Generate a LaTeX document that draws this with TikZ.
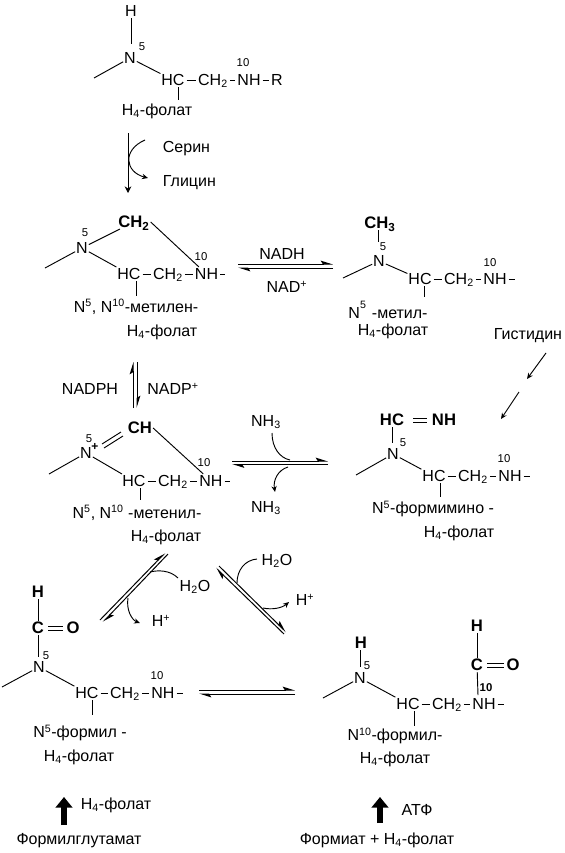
\documentclass[tikz,border=0pt]{standalone}
\usepackage{fontspec}
\setmainfont{Liberation Sans}
\usetikzlibrary{arrows.meta}
\newcommand{\hfour}{H\textsubscript{4}-фолат}
\tikzset{
  mol/.style={font=\fontsize{12}{13}\selectfont,text height=8.6pt,text depth=0.4pt,inner sep=0.6pt},
  molb/.style={mol,font=\fontsize{12.5}{13}\bfseries\selectfont},
  lab/.style={font=\fontsize{12}{13}\selectfont,inner sep=0.5pt},
  idx/.style={font=\fontsize{8.5}{9}\selectfont,inner sep=0pt},
  idxb/.style={font=\fontsize{8.5}{9}\bfseries\selectfont,inner sep=0pt},
  bond/.style={line width=0.7pt,black},
  chain/.style={bond,shorten <=0.8pt,shorten >=0.8pt},
  curved/.style={line width=0.7pt,-{Stealth[length=4.5pt,width=4pt]}},
  plaincurve/.style={line width=0.7pt},
  fwd/.style={line width=0.75pt,-{Stealth[harpoon,length=8pt,width=5pt,inset=1.5pt]}},
  back/.style={line width=0.75pt,-{Stealth[harpoon,length=8pt,width=5pt,inset=1.5pt]}},
  thick arrow/.style={line width=4.5pt,-{Triangle[length=8pt,width=12.5pt]}},
  every node/.style={text=black}
}
\begin{document}
\begin{tikzpicture}[x=0.75pt,y=-0.75pt]
\useasboundingbox (0,0) rectangle (564,853);
% ---------- H4-folate
\node[mol] (aH) at (131,11) {H};
\node[mol] (aN) at (130,58) {N};
\node[idx] (a5) at (142,47) {5};
\coordinate (aF) at (94,78);
\coordinate (aB) at (131,44);
\node[mol] (aHC) at (173,80) {HC};
\node[mol] (aCH) at (213,80) {CH\textsubscript{2}};
\node[mol] (aNH) at (249,80) {NH};
\node[mol] (aR) at (277,80) {R};
\node[idx] (a10) at (243,63) {10};
\coordinate (aT) at (178,100);
\node[lab] (aL) at (157,111) {\hfour};
\draw[bond] (aH) -- (aB);
\draw[bond] (aN) -- (aF);
\draw[bond] (aN) -- (aHC);
\draw[chain] (aHC) -- (aCH);
\draw[chain] (aCH) -- (aNH);
\draw[chain] (aNH) -- (aR);
\draw[bond] (aT |- aHC.south) -- (aT);
% serine -> glycine
\coordinate (s1) at (128,133); \coordinate (s2) at (128,193);
\coordinate (s3) at (145,140); \coordinate (s4) at (148,178);
\node[lab,anchor=west] (aS) at (162,149) {Серин};
\node[lab,anchor=west] (aG) at (162,183) {Глицин};
\draw[line width=0.7pt,-{Stealth[length=5pt,width=5pt]}] (s1) -- (s2);
\draw[curved] (s3) .. controls (122,150) and (125,172) .. (s4);
% ---------- methylene
\node[molb] (bCH2) at (134,222) {CH\textsubscript{2}};
\node[mol] (bN) at (82,248) {N};
\node[idx] (b5) at (85,233) {5};
\coordinate (bF) at (45,268);
\node[mol] (bHC) at (129,274) {HC};
\node[mol] (bCH) at (168,274) {CH\textsubscript{2}};
\node[mol] (bNH) at (206.5,274) {NH};
\coordinate (bE) at (225,274);
\node[idx] (b10) at (201,257) {10};
\coordinate (bT) at (136,296);
\node[lab] (bL) at (136,307) {N\textsuperscript{5}, N\textsuperscript{10}-метилен-};
\node[lab] (bL2) at (162,332) {\hfour};
\draw[bond] (bN) -- (bF);
\draw[bond] (bN) -- (bCH2);
\draw[bond] (bN) -- (bHC);
\draw[bond] (bCH2.east) -- (bNH);
\draw[chain] (bHC) -- (bCH);
\draw[chain] (bCH) -- (bNH);
\draw[chain,shorten >=0pt] (bNH) -- (bE);
\draw[bond] (bT |- bHC.south) -- (bT);
% NADH equilibrium
\coordinate (e1a) at (238,264); \coordinate (e1b) at (333,264);
\coordinate (e1c) at (333,268); \coordinate (e1d) at (238,268);
\draw[fwd] (e1a) -- (e1b);
\draw[back] (e1c) -- (e1d);
\node[lab] (eN1) at (282,254) {NADH};
\node[lab] (eN2) at (287,287) {NAD\textsuperscript{+}};
% ---------- methyl
\node[molb] (cCH3) at (380,223) {CH\textsubscript{3}};
\node[mol] (cN) at (379,261) {N};
\node[idx] (c5) at (383,247) {5};
\coordinate (cF) at (343,278);
\node[mol] (cHC) at (420,279) {HC};
\node[mol] (cCH) at (459,279) {CH\textsubscript{2}};
\node[mol] (cNH) at (495,279) {NH};
\coordinate (cE) at (515,279);
\node[idx] (c10) at (490,263) {10};
\coordinate (cT) at (424,297);
\coordinate (cTop) at (378,242);
\node[lab] (cL) at (388,310) {N\raisebox{3pt}{\textsuperscript{5}}\,\,-метил-};
\node[lab] (cL2) at (393,331) {\hfour};
\draw[bond] (cTop |- cCH3.south) -- (cTop);
\draw[bond] (cN) -- (cF);
\draw[bond] (cN) -- (cHC);
\draw[chain] (cHC) -- (cCH);
\draw[chain] (cCH) -- (cNH);
\draw[chain,shorten >=0pt] (cNH) -- (cE);
\draw[bond] (cT |- cHC.south) -- (cT);
% histidine
\node[lab] (hi) at (528,336) {Гистидин};
\coordinate (h1) at (546,353); \coordinate (h2) at (527,379);
\coordinate (h3) at (519,392); \coordinate (h4) at (501,419);
\draw[curved] (h1) -- (h2);
\draw[curved] (h3) -- (h4);
% NADPH equilibrium
\coordinate (v1) at (133,408); \coordinate (v2) at (133,362);
\coordinate (v3) at (137,362); \coordinate (v4) at (137,408);
\draw[fwd] (v1) -- (v2);
\draw[back] (v3) -- (v4);
\node[lab] (vA) at (90,389) {NADPH};
\node[lab] (vB) at (173,389) {NADP\textsuperscript{+}};
% ---------- methenyl
\node[molb] (dCH) at (140,428) {CH};
\node[mol] (dN) at (86,453) {N};
\node[idxb,font=\fontsize{9}{9}\bfseries\selectfont] (dP) at (95,447) {+};
\node[idx] (d5) at (89,439) {5};
\coordinate (dF) at (49,474);
\node[mol] (dHC) at (134,481) {HC};
\node[mol] (dCH2) at (173,481) {CH\textsubscript{2}};
\node[mol] (dNH) at (211,481) {NH};
\coordinate (dE) at (230,481);
\node[idx] (d10) at (204,463) {10};
\coordinate (dT) at (140,500);
\node[lab] (dL) at (137,513) {N\textsuperscript{5}, N\textsuperscript{10} -метенил-};
\node[lab] (dL2) at (166,537) {\hfour};
\coordinate (dd1) at (102,444); \coordinate (dd2) at (121,432);
\coordinate (dd3) at (104,448); \coordinate (dd4) at (123,436);
\draw[bond] (dd1) -- (dd2);
\draw[bond] (dd3) -- (dd4);
\draw[bond] (dN) -- (dF);
\draw[bond] (dN) -- (dHC);
\draw[bond] (dCH.east) -- (dNH);
\draw[chain] (dHC) -- (dCH2);
\draw[chain] (dCH2) -- (dNH);
\draw[chain,shorten >=0pt] (dNH) -- (dE);
\draw[bond] (dT |- dHC.south) -- (dT);
% NH3 equilibrium
\coordinate (n1) at (232,461); \coordinate (n2) at (328,461);
\coordinate (n3) at (328,464.5); \coordinate (n4) at (232,464.5);
\draw[fwd] (n1) -- (n2);
\draw[back] (n3) -- (n4);
\node[lab] (nA) at (266,422) {NH\textsubscript{3}};
\node[lab] (nB) at (266,508) {NH\textsubscript{3}};
\coordinate (n5) at (272,433); \coordinate (n6) at (290,460);
\coordinate (n7) at (288,467); \coordinate (n8) at (275,492);
\draw[plaincurve] (n5) .. controls (272,448) and (280,458) .. (n6);
\draw[curved] (n7) .. controls (278,470) and (273,480) .. (n8);
% ---------- formimino
\node[molb] (fHC) at (392,420) {HC};
\coordinate (fd1) at (413,418); \coordinate (fd2) at (427,418);
\coordinate (fd3) at (413,422); \coordinate (fd4) at (427,422);
\node[molb] (fNH2) at (444,420) {NH};
\node[mol] (fN) at (393,454) {N};
\node[idx] (f5) at (403,443) {5};
\coordinate (fF) at (356,475);
\node[mol] (fHCb) at (434,476) {HC};
\node[mol] (fCH) at (473,476) {CH\textsubscript{2}};
\node[mol] (fNH) at (510,476) {NH};
\coordinate (fE) at (530,476);
\node[idx] (f10) at (504,459) {10};
\coordinate (fT) at (440,497);
\coordinate (fB) at (392,443);
\node[lab] (fL) at (433,509) {N\textsuperscript{5}-формимино -};
\node[lab] (fL2) at (459,533) {\hfour};
\draw[bond] (fd1) -- (fd2);
\draw[bond] (fd3) -- (fd4);
\draw[bond] (fB |- fHC.south) -- (fB);
\draw[bond] (fN) -- (fF);
\draw[bond] (fN) -- (fHCb);
\draw[chain] (fHCb) -- (fCH);
\draw[chain] (fCH) -- (fNH);
\draw[chain,shorten >=0pt] (fNH) -- (fE);
\draw[bond] (fT |- fHCb.south) -- (fT);
% left diagonal equilibrium
\coordinate (g1) at (100,620); \coordinate (g2) at (165,553);
\coordinate (g3) at (168,554); \coordinate (g4) at (103,622);
\draw[fwd] (g1) -- (g2);
\draw[back] (g3) -- (g4);
\node[lab] (gA) at (195,587) {H\textsubscript{2}O};
\node[lab] (gB) at (161,621) {H\textsuperscript{+}};
\coordinate (g5) at (178,578); \coordinate (g6) at (150,572);
\coordinate (g7) at (128,598); \coordinate (g8) at (140,623);
\draw[plaincurve] (g5) .. controls (170,570) and (158,570) .. (g6);
\draw[curved] (g7) .. controls (126,610) and (132,620) .. (g8);
% right diagonal equilibrium
\coordinate (k1) at (284,634); \coordinate (k2) at (216,568);
\coordinate (k3) at (219,566); \coordinate (k4) at (286,632);
\draw[fwd] (k1) -- (k2);
\draw[back] (k3) -- (k4);
\node[lab] (kA) at (277,561) {H\textsubscript{2}O};
\node[lab] (kB) at (305,600) {H\textsuperscript{+}};
\coordinate (k5) at (257,559); \coordinate (k6) at (237,583);
\coordinate (k7) at (263,608); \coordinate (k8) at (289,602);
\draw[plaincurve] (k5) .. controls (245,560) and (237,570) .. (k6);
\draw[curved] (k7) .. controls (272,610) and (282,608) .. (k8);
% ---------- N5-formyl
\node[molb] (mH) at (38,592) {H};
\node[molb] (mC) at (38,628) {C};
\coordinate (md1) at (48,626.5); \coordinate (md2) at (63,626.5);
\coordinate (md3) at (48,630); \coordinate (md4) at (63,630);
\node[molb] (mO) at (73,628) {O};
\node[mol] (mN) at (39,667) {N};
\node[idx] (m5) at (46,656) {5};
\coordinate (mF) at (2,687);
\node[mol] (mHC) at (87,693) {HC};
\node[mol] (mCH) at (125,693) {CH\textsubscript{2}};
\node[mol] (mNH) at (163,693) {NH};
\coordinate (mE) at (183,693);
\node[idx] (m10) at (157,676) {10};
\coordinate (mT) at (92,715);
\coordinate (mB) at (38.5,657);
\node[lab] (mL) at (80,733) {N\textsuperscript{5}-формил -};
\node[lab] (mL2) at (79,757) {\hfour};
\draw[bond] (md1) -- (md2);
\draw[bond] (md3) -- (md4);
\draw[bond] (mH) -- (mC);
\draw[bond] (mB |- mC.south) -- (mB);
\draw[bond] (mN) -- (mF);
\draw[bond] (mN) -- (mHC);
\draw[chain] (mHC) -- (mCH);
\draw[chain] (mCH) -- (mNH);
\draw[chain,shorten >=0pt] (mNH) -- (mE);
\draw[bond] (mT |- mHC.south) -- (mT);
% lower equilibrium
\coordinate (q1) at (199,690); \coordinate (q2) at (295,690);
\coordinate (q3) at (295,694); \coordinate (q4) at (199,694);
\draw[fwd] (q1) -- (q2);
\draw[back] (q3) -- (q4);
% ---------- N10-formyl
\node[molb] (pH) at (361,643) {H};
\node[mol] (pN) at (360,678) {N};
\node[idx] (p5) at (367,666) {5};
\coordinate (pF) at (323,698);
\node[mol] (pHC) at (408,704) {HC};
\node[mol] (pCH) at (447,704) {CH\textsubscript{2}};
\node[mol] (pNH) at (484,704) {NH};
\coordinate (pE) at (504,704);
\coordinate (pT) at (414,726);
\coordinate (pB) at (360,667);
\node[lab] (pL) at (395,736) {N\textsuperscript{10}-формил-};
\node[lab] (pL2) at (395,759) {\hfour};
\node[molb] (rH) at (477,626) {H};
\node[molb] (rC) at (477,665) {C};
\coordinate (rd1) at (487,663); \coordinate (rd2) at (504,663);
\coordinate (rd3) at (487,667); \coordinate (rd4) at (504,667);
\node[molb] (rO) at (513,665) {O};
\coordinate (rB) at (478,695);
\node[idxb] (r10) at (486,688) {10};
\draw[bond] (rd1) -- (rd2);
\draw[bond] (rd3) -- (rd4);
\draw[bond] (rH) -- (rC);
\draw[bond] (rC) -- (rB);
\draw[bond] (pB |- pH.south) -- (pB);
\draw[bond] (pN) -- (pF);
\draw[bond] (pN) -- (pHC);
\draw[chain] (pHC) -- (pCH);
\draw[chain] (pCH) -- (pNH);
\draw[chain,shorten >=0pt] (pNH) -- (pE);
\draw[bond] (pT |- pHC.south) -- (pT);
% ---------- bottom
\coordinate (u1) at (64,825); \coordinate (u2) at (64,797);
\coordinate (u3) at (380,823); \coordinate (u4) at (380,797);
\draw[thick arrow] (u1) -- (u2);
\draw[thick arrow] (u3) -- (u4);
\node[lab] (uA) at (116,805) {\hfour};
\node[lab] (uB) at (79,841) {Формилглутамат};
\node[lab] (uC) at (417,810) {АТФ};
\node[lab] (uD) at (377,840) {Формиат + \hfour};
\end{tikzpicture}
\end{document}
